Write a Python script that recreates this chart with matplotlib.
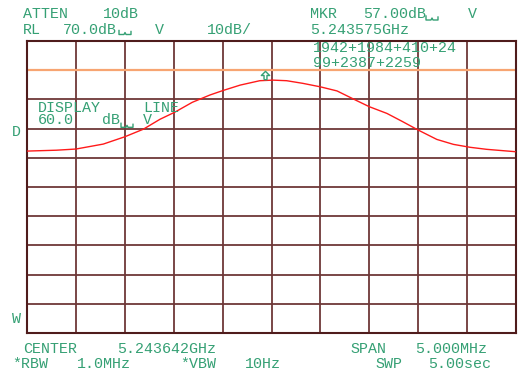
import numpy as np
import matplotlib.pyplot as plt
from matplotlib.lines import Line2D

# spectrum analyser screen: 10 dB/div, RL 70 dB, span 5 MHz
W, H = 519, 376
ref_level = 70.0
db_per_div = 10.0
span_mhz = 5.0
display_line = 60.0

# trace (offset from center in MHz, level in dB)
offset_mhz = [-2.5, -2.2, -2.0, -1.72, -1.5, -1.31, -1.14, -0.99, -0.81, -0.63,
              -0.5, -0.32, -0.12, 0.015, 0.155, 0.32, 0.5, 0.67, 0.87, 1.0,
              1.18, 1.34, 1.5, 1.69, 1.86, 2.03, 2.2, 2.49]
level_db = [32.3, 32.6, 33.0, 34.7, 37.2, 39.8, 43.2, 45.6, 49.0, 51.5,
            53.0, 54.9, 56.4, 56.6, 56.4, 55.5, 54.3, 52.9, 49.6, 47.5,
            45.2, 42.4, 39.5, 36.3, 34.6, 33.6, 32.9, 32.1]

center_ghz = 5.243642
mkr_ghz = 5.243575
mkr_db = 57.0

txt_color = '#35a074'
grid_color = '#6e3838'
font = ['Liberation Mono', 'DejaVu Sans Mono']

fig = plt.figure(figsize=(W / 100, H / 100), dpi=100)
ax = fig.add_axes([27 / W, 1 - 333 / H, 489 / W, 292 / H])

ax.plot(offset_mhz, level_db, color='#ff1a1a', lw=1.0, zorder=3)
ax.axhline(display_line, color='#f7a572', lw=1.6, zorder=2)

# hollow up-arrow marker sitting just above the marker level
arrow = [(-0.35, -1), (0.35, -1), (0.35, 0), (1, 0), (0, 1), (-1, 0), (-0.35, 0), (-0.35, -1)]
ax.plot([(mkr_ghz - center_ghz) * 1000], [mkr_db + 1.2], marker=arrow, ms=6,
        mfc='white', mec=txt_color, mew=1.0, ls='none', zorder=4)

ax.set_xlim(-span_mhz / 2, span_mhz / 2)
ax.set_ylim(ref_level - 10 * db_per_div, ref_level)
ax.set_xticks(np.linspace(-span_mhz / 2, span_mhz / 2, 11))
ax.set_yticks(np.arange(ref_level - 10 * db_per_div, ref_level + 1, db_per_div))
ax.grid(True, color=grid_color, lw=1.3)
ax.tick_params(length=0, labelbottom=False, labelleft=False)
for s in ax.spines.values():
    s.set_color('#4f1c1c')
    s.set_linewidth(1.5)


def put(x, y, s, size=10.8):
    # x = left edge, y = baseline, both in screen pixels
    fig.text(x / W, 1 - y / H, s, color=txt_color, fontsize=size,
             family=font, ha='left', va='baseline')


def blank(x, y):
    # small "space" glyph of the analyser font, drawn as a bracket
    xs = [x, x, x + 5, x + 6, x + 7, x + 12, x + 12]
    ys = [y - 4, y, y, y - 2, y, y, y - 3]
    fig.add_artist(Line2D([v / W for v in xs], [1 - v / H for v in ys],
                          color=txt_color, lw=1.0, transform=fig.transFigure))


put(23, 18.5, 'ATTEN')
put(103, 18.5, '10dB')
put(23, 34.3, 'RL')
put(63, 34.3, '70.0dB')
blank(119, 34.5)
put(155, 34.3, 'V')
put(207, 34.3, '10dB/')

put(310, 18.5, 'MKR')
put(363, 18.5, '57.00dB')
blank(426, 20)
put(468, 18.5, 'V')
put(310, 34.3, '5.243575GHz')
put(313, 52.5, '1942+1984+410+24')
put(313, 66.7, '99+2387+2259')

put(38, 111.7, 'DISPLAY')
put(143, 111.7, 'LINE')
put(38, 124.3, '60.0')
put(102, 124.3, 'dB')
blank(121, 127.3)
put(143, 124.3, 'V')

put(12, 136, 'D')
put(12, 323.3, 'W')

put(23, 353.3, 'CENTER')
put(117, 353.3, '5.243642GHz')
put(12, 368.3, '*RBW')
put(77, 368.3, '1.0MHz')
put(180, 368.3, '*VBW')
put(245, 368.3, '10Hz')
put(350, 353.3, 'SPAN')
put(415, 353.3, '5.000MHz')
put(375, 368.3, 'SWP')
put(428, 368.3, '5.00sec')

fig.savefig('out.png', dpi=100)
